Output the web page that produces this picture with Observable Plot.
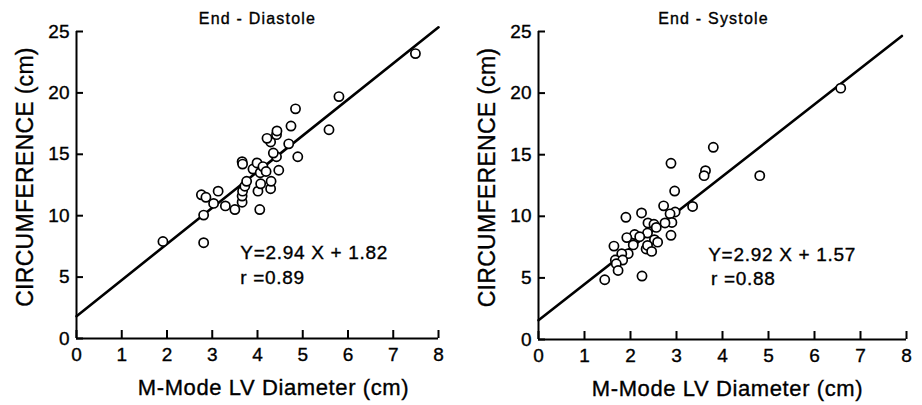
<!DOCTYPE html>
<html><head><meta charset="utf-8">
<script src="https://cdn.jsdelivr.net/npm/d3@7"></script>
<script src="https://cdn.jsdelivr.net/npm/@observablehq/plot@0.6"></script>
<style>
body{margin:0;background:#fff;}
#wrap{position:relative;width:922px;height:405px;overflow:hidden;background:#fff;}
.panel{position:absolute;top:0;}
.panel svg text{stroke:#000;stroke-width:0.35px;}
</style></head><body>
<div id="wrap"><div id="p1" class="panel" style="left:0"></div><div id="p2" class="panel" style="left:460px"></div></div>
<script>
const xTicks = [0, 1, 2, 3, 4, 5, 6, 7, 8];
const yTicks = [0, 5, 10, 15, 20, 25];
const xLabel = "M-Mode LV Diameter (cm)";
const yLabel = "CIRCUMFERENCE (cm)";

const titles = ["End - Diastole", "End - Systole"];
const equations = ["Y=2.94 X + 1.82", "Y=2.92 X + 1.57"];
const rTexts = ["r =0.89", "r =0.88"];
const slopes = [2.94, 2.92];
const intercepts = [1.82, 1.57];
const lineXEnd = [8, 7.9];

const diastoleX = [1.91,2.81,2.81,2.76,2.86,3.03,3.13,3.29,3.50,3.66,3.66,3.67,3.72,3.76,3.66,3.67,3.90,3.99,4.01,4.07,4.06,4.12,4.19,4.05,4.29,4.30,4.47,4.42,4.35,4.29,4.21,4.42,4.43,4.69,4.74,4.89,4.84,5.58,5.80,7.49];
const diastoleY = [7.9,7.8,10.05,11.7,11.5,11.0,12.0,10.8,10.5,11.1,11.6,12.0,12.4,12.8,14.4,14.2,13.8,14.3,12.0,12.6,13.5,14.0,13.6,10.5,12.2,12.8,13.7,14.8,15.1,16.0,16.3,16.6,16.9,15.85,17.3,14.8,18.7,17.0,19.7,23.2];

const systoleX = [6.57,3.80,3.63,3.60,4.81,2.88,2.96,3.35,2.97,2.72,2.86,2.90,2.75,2.88,2.24,1.90,2.38,2.51,2.56,2.37,2.52,2.59,2.09,2.20,1.92,2.06,1.95,2.34,2.37,2.46,1.64,1.81,1.67,1.83,1.69,1.73,1.44,2.25];
const systoleY = [20.4,15.6,13.7,13.3,13.3,14.3,12.05,10.8,10.35,10.85,10.2,9.5,9.46,8.46,10.27,9.92,9.46,9.35,9.1,8.64,8.1,7.9,8.52,8.35,8.27,7.68,6.97,7.35,7.64,7.15,7.58,6.97,6.45,6.45,6.15,5.6,4.85,5.15];

// annotation anchor positions in data units
const annX = [3.62, 3.69];
const annXr = [3.62, 3.75];
const annYEq = [7.0, 6.9];
const annYR = [4.9, 4.9];

const FONT = "'Liberation Sans', Arial, Helvetica, sans-serif";

function makePanel(i, xs, ys, m, titleDx, xLabelDx) {
  const W = 461, H = 405;
  const frameW = W - m.left - m.right;
  const frameH = H - m.top - m.bottom;
  const pts = xs.map((x, k) => ({x, y: ys[k]}));
  const fit = [0, lineXEnd[i]].map(x => ({x, y: slopes[i] * x + intercepts[i]}));
  const svg = Plot.plot({
    width: W, height: H,
    marginLeft: m.left, marginRight: m.right, marginTop: m.top, marginBottom: m.bottom,
    style: {fontFamily: FONT, fontSize: "18px", color: "#000", background: "#fff", overflow: "visible"},
    x: {domain: [0, 8]},
    y: {domain: [0, 25]},
    marks: [
      Plot.axisX({ticks: xTicks, tickSize: 0, tickPadding: 9, fontSize: 19, label: null, tickFormat: d => String(d)}),
      Plot.axisY({ticks: yTicks, tickSize: 0, tickPadding: 7, fontSize: 19, label: null, tickFormat: d => String(d)}),
      Plot.tickX(xTicks, {x: d => d, insetTop: frameH - 8, stroke: "#000", strokeWidth: 2}),
      Plot.tickY(yTicks, {y: d => d, insetRight: frameW - 7, stroke: "#000", strokeWidth: 2}),
      Plot.ruleX([0], {stroke: "#000", strokeWidth: 2}),
      Plot.ruleY([0], {stroke: "#000", strokeWidth: 2}),
      Plot.line(fit, {x: "x", y: "y", stroke: "#000", strokeWidth: 2.6}),
      Plot.dot(pts, {x: "x", y: "y", r: 4.6, stroke: "#000", strokeWidth: 1.7, fill: "#fff"}),
      Plot.text([equations[i]], {x: annX[i], y: annYEq[i], text: d => d, textAnchor: "start", lineAnchor: "middle", fontSize: 19, fill: "#000"}),
      Plot.text([rTexts[i]], {x: annXr[i], y: annYR[i], text: d => d, textAnchor: "start", lineAnchor: "middle", fontSize: 19, fill: "#000"}),
      Plot.text([titles[i]], {frameAnchor: "top", dy: -13, dx: titleDx, text: d => d, textAnchor: "middle", lineAnchor: "middle", fontSize: 16, fill: "#000"}),
      Plot.text([xLabel], {frameAnchor: "bottom", dy: 49, dx: xLabelDx, text: d => d, textAnchor: "middle", lineAnchor: "middle", fontSize: 22, fill: "#000"}),
      Plot.text([yLabel], {frameAnchor: "left", dx: -51, dy: -8, rotate: -90, text: d => d, textAnchor: "middle", lineAnchor: "middle", fontSize: 23, fill: "#000"})
    ]
  });
  const sel = d3.select(svg).selectAll("text");
  const spacing = new Map([
    [titles[i], "1.2px"], [equations[i], "0.7px"], [rTexts[i], "0.7px"], [xLabel, "0.6px"], [yLabel, "0.3px"]
  ]);
  sel.each(function() {
    const s = spacing.get(this.textContent);
    if (s) this.style.letterSpacing = s;
  });
  return svg;
}

document.getElementById("p1").appendChild(
  makePanel(0, diastoleX, diastoleY, {left: 76, right: 23, top: 31, bottom: 67}, 0, 16));
document.getElementById("p2").appendChild(
  makePanel(1, systoleX, systoleY, {left: 78, right: 15, top: 31, bottom: 66}, -9, 5));
</script>
</body></html>
